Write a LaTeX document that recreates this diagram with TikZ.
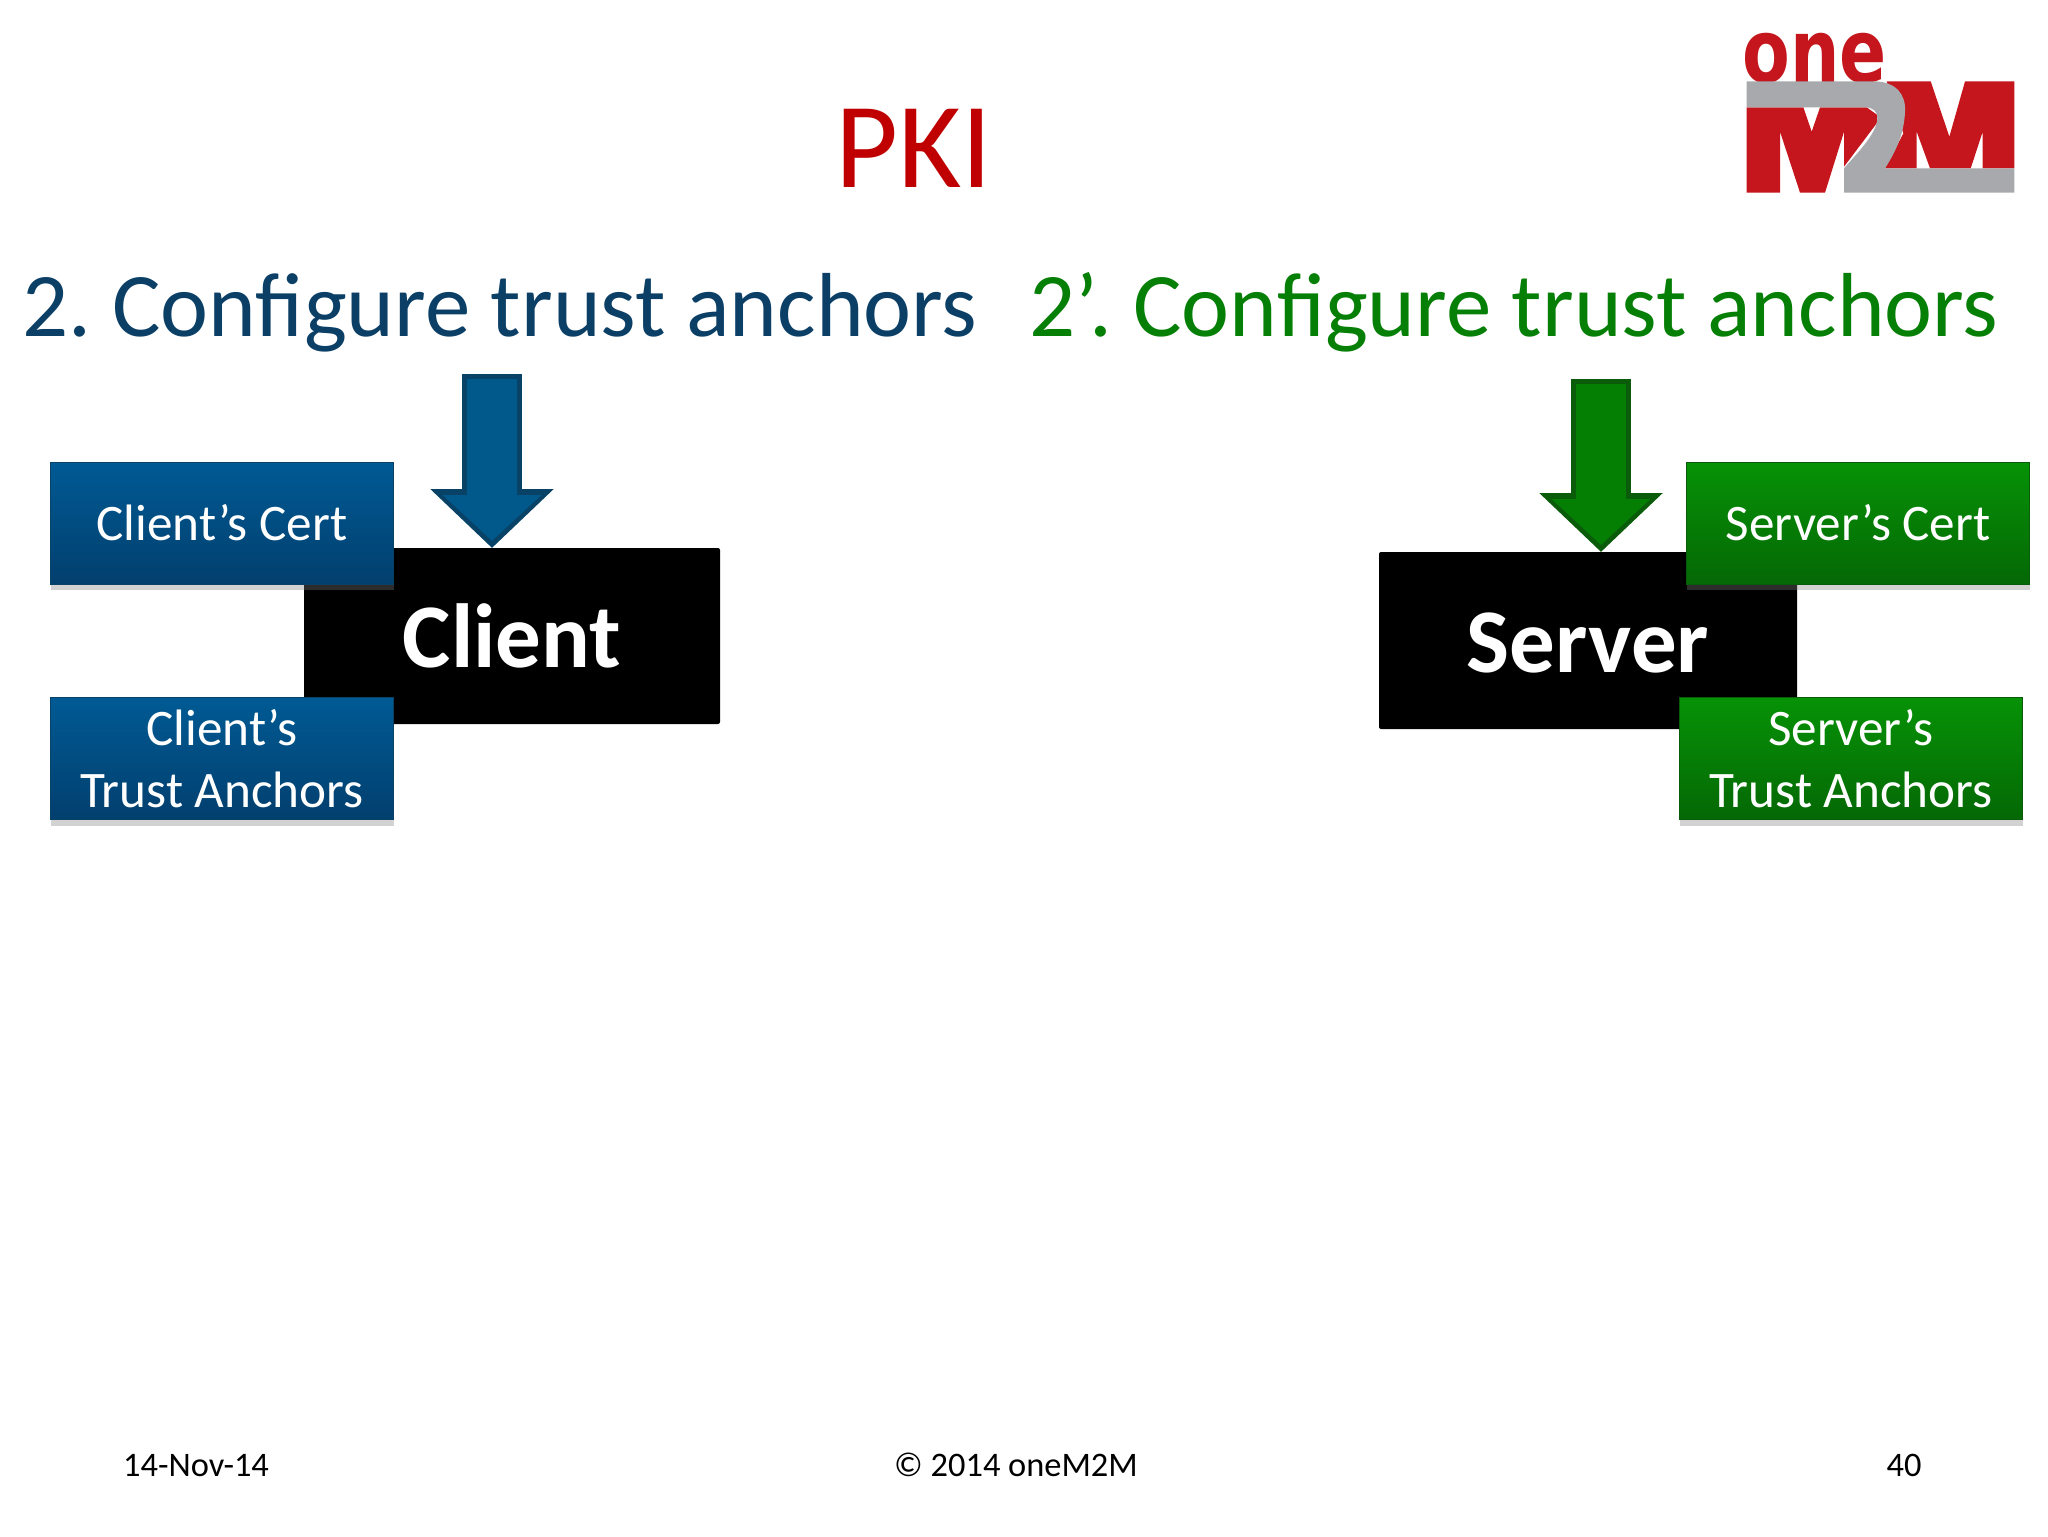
\documentclass[tikz,border=0pt]{standalone}
\usepackage{fontspec}
\setmainfont{Carlito}
\newfontfamily\logofont{DejaVu Sans}
\usetikzlibrary{arrows.meta,shadows}
\definecolor{pkired}{HTML}{C00000}
\definecolor{anchorblue}{HTML}{0B3F66}
\definecolor{anchorgreen}{HTML}{067F06}
\definecolor{certbluetop}{HTML}{005A94}
\definecolor{certbluebot}{HTML}{023F6E}
\definecolor{certgreentop}{HTML}{069206}
\definecolor{certgreenbot}{HTML}{056805}
\definecolor{bluerim}{HTML}{084266}
\definecolor{bluecore}{HTML}{01588A}
\definecolor{greenrim}{HTML}{0A5C0A}
\definecolor{greencore}{HTML}{047F04}
\definecolor{logored}{HTML}{C4161C}
\definecolor{logogray}{HTML}{A7A9AC}
\begin{document}
\begin{tikzpicture}[x=0.5pt,y=-0.5pt,
    plain text/.style={inner sep=0pt,outer sep=0pt,anchor=base},
    heading/.style={plain text,font=\fontsize{45.45}{54}\selectfont},
    footer/.style={plain text,font=\fontsize{17.2}{20}\selectfont,text=black},
    main node/.style={fill=black,text=white,rounded corners=1pt,inner sep=0pt,outer sep=0pt,text height=31.5pt,text depth=0pt,font=\fontsize{45.5}{54}\selectfont\bfseries},
    cert node/.style={minimum width=171.5pt,minimum height=61pt,inner sep=0pt,outer sep=0pt,text=white,align=center,
        font=\fontsize{25.6}{30.7}\selectfont,drop shadow={shadow xshift=0pt,shadow yshift=-3pt,opacity=.35}},
    blue node/.style={cert node,top color=certbluetop,bottom color=certbluebot,draw=bluerim},
    green node/.style={cert node,top color=certgreentop,bottom color=certgreenbot,draw=greenrim},
    arrow rim/.style={line width=30pt,-{Triangle[length=29.5pt,width=60pt]}},
    arrow core/.style={line width=25pt,shorten <=2.5pt,shorten >=3.5pt,-{Triangle[length=23pt,width=48pt]}}]
    \useasboundingbox (0,0) rectangle (2048,1536);
    \fill[white] (0,0) rectangle (2048,1536);

    \node[heading,text=pkired,font=\fontsize{61}{70}\selectfont] at (914,187) (title) {PKI};
    \node[heading,text=anchorblue,anchor=base west] at (22,336) (clienthead) {2.\hspace{-3pt} Configure trust anchors};
    \node[heading,text=anchorgreen,anchor=base west] at (1029,336) (serverhead) {2’.\hspace{-3pt} Configure trust anchors};

    \node[main node,minimum width=208pt,minimum height=88pt] at (512,636) (client) {Client};
    \node[main node,minimum width=209pt,minimum height=88.5pt] at (1588,640.5) (server) {Server};

    \node[blue node] at (222,523) (clientcert) {Client’s Cert};
    \node[blue node] at (222,758.5) (clientanchors) {Client’s\\Trust Anchors};
    \node[green node] at (1858,523) (servercert) {Server’s Cert};
    \node[green node] at (1851,758.5) (serveranchors) {Server’s\\Trust Anchors};

    \coordinate (clienttop) at (492,374);
    \coordinate (servertop) at (1601,379);
    \draw[arrow rim,color=bluerim] (clienttop) -- (clienttop |- client.north);
    \draw[arrow core,color=bluecore] (clienttop) -- (clienttop |- client.north);
    \draw[arrow rim,color=greenrim] (servertop) -- (servertop |- server.north);
    \draw[arrow core,color=greencore] (servertop) -- (servertop |- server.north);

    \node[footer] at (196,1476) (date) {14-Nov-14};
    \node[footer] at (1016,1476) (copyright) {© 2014 oneM2M};
    \node[footer] at (1904,1476) (page) {40};

    \begin{scope}[shift={(1700,0)},x=0.16667pt,y=-0.16667pt]
        \node[plain text,text=logored,font=\logofont\bfseries\fontsize{44}{50}\selectfont,xscale=0.79] at (344,246) (logoone) {one};
        \fill[logored] (140,322) -- (310,322) -- (335,395) -- (360,322) -- (500,322) -- (532,345) -- (530,370) -- (432,500) -- (432,395) -- (375,578) -- (300,578) -- (240,395) -- (240,578) -- (140,578) -- cycle;
        \fill[logored] (560,244) -- (692,244) -- (748,410) -- (795,244) -- (943,244) -- (943,505) -- (848,505) -- (848,395) -- (812,505) -- (690,505) -- (650,395) -- (650,505) -- (555,505) -- (610,400) -- cycle;
        \fill[logogray] (140,244) -- (520,244) .. controls (590,244) and (618,285) .. (615,335) .. controls (612,400) and (590,450) .. (555,505) -- (943,505) -- (943,578) -- (432,578) -- (432,505) .. controls (480,450) and (530,400) .. (532,355) .. controls (533,335) and (520,322) .. (495,322) -- (140,322) -- cycle;
    \end{scope}
\end{tikzpicture}
\end{document}
